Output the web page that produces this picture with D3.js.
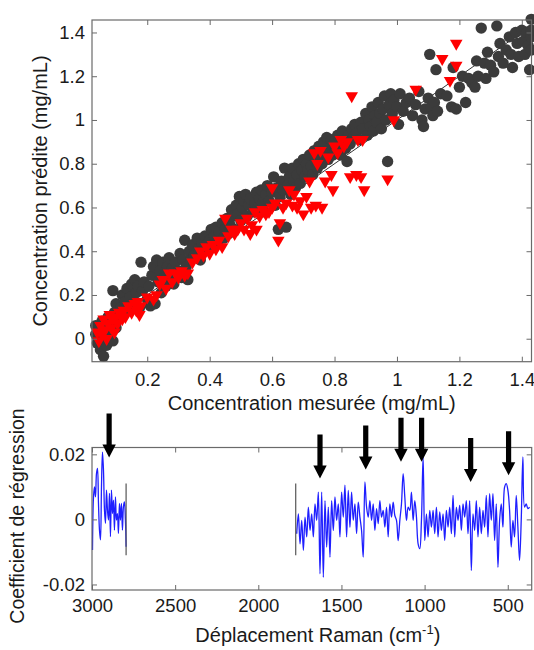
<!DOCTYPE html>
<html><head><meta charset="utf-8">
<script src="https://cdn.jsdelivr.net/npm/d3@7"></script>
<style>body{margin:0;background:#fff}text{font-family:"Liberation Sans",Arial,sans-serif;fill:#1a1a1a}</style>
</head><body>
<svg id="c" width="534" height="650"></svg>
<script>
// ---------- Top panel data (measured vs predicted concentration, mg/mL) ----------
const grayPts = [
[0.035,0.06],[0.035,0.02],[0.04,-0.02],[0.045,0.04],[0.05,-0.05],[0.055,0.08],[0.06,-0.08],[0.06,0.0],[0.065,0.05],[0.07,-0.03],
[0.075,0.1],[0.08,0.02],[0.085,0.06],[0.09,-0.01],[0.09,0.22],[0.095,0.12],[0.1,0.05],[0.1,0.16],[0.11,0.09],[0.115,0.14],
[0.12,0.2],[0.125,0.11],[0.13,0.17],[0.135,0.23],[0.14,0.13],[0.145,0.19],[0.15,0.25],[0.155,0.16],[0.16,0.27],[0.165,0.21],
[0.17,0.24],[0.175,0.14],[0.18,0.35],[0.185,0.22],[0.19,0.26],[0.2,0.18],[0.205,0.24],[0.21,0.15],[0.215,0.29],[0.22,0.33],
[0.225,0.16],[0.23,0.36],[0.235,0.26],[0.24,0.31],[0.245,0.21],[0.25,0.35],[0.255,0.28],[0.26,0.24],[0.265,0.33],[0.27,0.37],
[0.275,0.29],[0.28,0.32],[0.285,0.25],[0.29,0.35],[0.3,0.31],[0.305,0.39],[0.31,0.28],[0.315,0.36],[0.32,0.45],[0.325,0.33],
[0.33,0.27],[0.335,0.4],[0.34,0.36],[0.345,0.43],[0.35,0.38],[0.36,0.46],[0.365,0.41],[0.37,0.36],[0.375,0.44],[0.38,0.4],
[0.385,0.47],[0.39,0.43],[0.4,0.45],[0.405,0.5],[0.41,0.42],[0.415,0.47],[0.42,0.51],[0.425,0.44],[0.43,0.49],[0.44,0.53],
[0.445,0.46],[0.45,0.5],[0.455,0.55],[0.46,0.48],[0.465,0.52],[0.47,0.59],[0.475,0.56],[0.48,0.5],[0.485,0.61],[0.49,0.57],
[0.495,0.65],[0.5,0.54],[0.505,0.6],[0.51,0.63],[0.515,0.66],[0.52,0.56],[0.525,0.61],[0.53,0.64],[0.54,0.58],[0.545,0.62],
[0.55,0.67],[0.555,0.6],[0.56,0.64],[0.565,0.68],[0.57,0.62],[0.575,0.58],[0.58,0.66],[0.585,0.7],[0.59,0.63],[0.6,0.67],
[0.605,0.74],[0.61,0.61],[0.615,0.69],[0.62,0.5],[0.625,0.65],[0.63,0.72],[0.635,0.68],[0.64,0.78],[0.645,0.51],[0.65,0.7],
[0.655,0.74],[0.66,0.66],[0.665,0.78],[0.67,0.72],[0.675,0.69],[0.68,0.75],[0.685,0.8],[0.69,0.71],[0.695,0.77],[0.7,0.82],
[0.705,0.74],[0.71,0.8],[0.715,0.77],[0.72,0.84],[0.725,0.79],[0.73,0.75],[0.735,0.86],[0.74,0.81],[0.745,0.78],[0.75,0.88],
[0.755,0.83],[0.76,0.8],[0.765,0.9],[0.77,0.85],[0.775,0.92],[0.78,0.82],[0.785,0.87],[0.79,0.91],[0.795,0.84],[0.8,0.9],
[0.805,0.86],[0.81,0.93],[0.815,0.88],[0.82,0.84],[0.825,0.95],[0.83,0.9],[0.835,0.87],[0.84,0.81],[0.845,0.93],[0.85,0.89],
[0.855,0.96],[0.86,0.92],[0.865,0.98],[0.87,0.94],[0.88,0.91],[0.885,0.99],[0.89,0.96],[0.9,1.03],[0.905,0.93],[0.91,1.0],
[0.915,0.97],[0.92,1.06],[0.925,0.95],[0.93,1.02],[0.935,0.99],[0.94,1.08],[0.945,1.03],[0.95,0.96],[0.955,1.05],[0.96,1.11],
[0.965,1.0],[0.97,0.81],[0.975,1.07],[0.98,1.12],[0.985,1.03],[0.99,1.09],[1.0,1.06],[1.005,0.98],[1.01,1.12],[1.02,1.04],
[1.03,1.08],[1.04,1.1],[1.05,1.02],[1.06,1.07],[1.07,1.13],[1.08,1.0],[1.085,0.97],[1.09,1.05],[1.1,1.1],[1.105,1.3],
[1.11,1.06],[1.115,1.02],[1.12,1.08],[1.125,1.23],[1.13,1.04],[1.14,1.12],[1.16,1.11],[1.175,1.06],[1.18,1.24],[1.19,1.05],
[1.2,1.15],[1.21,1.2],[1.22,1.08],[1.23,1.19],[1.24,1.17],[1.25,1.15],[1.255,1.27],[1.26,1.2],[1.27,1.42],[1.28,1.26],
[1.285,1.19],[1.29,1.31],[1.3,1.25],[1.31,1.22],[1.32,1.43],[1.325,1.29],[1.33,1.35],[1.34,1.26],[1.35,1.32],[1.36,1.38],
[1.365,1.3],[1.37,1.24],[1.38,1.4],[1.385,1.35],[1.39,1.29],[1.4,1.41],[1.405,1.36],[1.41,1.3],[1.415,1.4],[1.42,1.34],
[1.425,1.23],[1.43,1.46],[1.43,1.38],[1.43,1.32],[1.43,1.41]
];
const redPts = [
[0.04,0.03],[0.045,-0.01],[0.05,0.06],[0.055,0.02],[0.06,0.09],[0.065,0.04],[0.07,0.0],[0.075,0.07],[0.08,0.11],[0.085,0.05],
[0.09,0.09],[0.095,0.03],[0.1,0.1],[0.105,0.07],[0.11,0.12],[0.12,0.09],[0.125,0.13],[0.13,0.1],[0.14,0.15],[0.15,0.12],
[0.16,0.16],[0.165,0.13],[0.17,0.17],[0.175,0.11],[0.18,0.15],[0.2,0.19],[0.22,0.18],[0.23,0.2],[0.24,0.25],[0.25,0.27],
[0.26,0.23],[0.27,0.3],[0.28,0.26],[0.29,0.3],[0.3,0.28],[0.31,0.31],[0.32,0.29],[0.33,0.3],[0.345,0.35],[0.36,0.37],
[0.37,0.4],[0.38,0.38],[0.39,0.42],[0.4,0.39],[0.41,0.43],[0.42,0.41],[0.43,0.45],[0.44,0.42],[0.45,0.55],[0.46,0.47],
[0.47,0.5],[0.48,0.48],[0.49,0.5],[0.5,0.53],[0.51,0.5],[0.52,0.55],[0.53,0.48],[0.535,0.52],[0.545,0.58],[0.55,0.5],
[0.56,0.56],[0.57,0.59],[0.58,0.57],[0.59,0.58],[0.6,0.6],[0.6,0.69],[0.61,0.62],[0.62,0.45],[0.625,0.53],[0.635,0.6],
[0.645,0.62],[0.655,0.68],[0.665,0.61],[0.67,0.66],[0.68,0.6],[0.69,0.63],[0.7,0.57],[0.71,0.65],[0.72,0.72],[0.725,0.6],
[0.735,0.85],[0.74,0.61],[0.745,0.8],[0.755,0.86],[0.76,0.6],[0.77,0.72],[0.78,0.83],[0.79,0.75],[0.795,0.68],[0.8,0.88],
[0.81,0.85],[0.82,0.91],[0.83,0.88],[0.84,0.9],[0.85,0.74],[0.855,1.11],[0.87,0.75],[0.875,0.91],[0.885,0.74],[0.89,0.91],
[0.895,0.68],[0.97,0.73],[0.99,1.0],[1.06,1.14],[1.145,1.28],[1.17,1.18],[1.19,1.25],[1.19,1.35]
];
const xTicksTop = [0.2,0.4,0.6,0.8,1,1.2,1.4];
const yTicksTop = [0,0.2,0.4,0.6,0.8,1,1.2,1.4];

// ---------- Bottom panel data (regression coefficients vs Raman shift) ----------
const seg1Wn = [2997,2991,2985,2979,2973,2967,2961,2955,2949,2943,2937,2931,2925,2919,2913,2907,2901,2895,2889,2883,
2877,2871,2865,2859,2853,2847,2841,2835,2829,2823,2817,2811,2805,2799,2795];
const seg1Val = [-0.0094,0.0069,0.01,0.0069,0.0141,0.0157,0.0049,-0.0033,-0.0063,0.01,0.0207,0.0151,0.0029,-0.0012,0.009,
0.0029,-0.0002,0.008,-0.0053,0.009,0.0018,0.0059,-0.0033,0.0069,-0.0002,0.0018,-0.0043,0.0049,-0.0002,0.0049,-0.0033,
0.0039,0.0054,-0.0002,-0.0084];
const seg2Wn = [1769,1759,1749,1739,1729,1719,1709,1699,1689,1679,1669,1659,1649,1639,1629,1619,1609,1599,1589,1579,
1569,1559,1549,1539,1529,1519,1509,1499,1489,1479,1469,1459,1449,1439,1429,1419,1409,1399,1389,1379,
1369,1359,1349,1339,1329,1319,1309,1299,1289,1279,1269,1259,1249,1239,1229,1219,1209,1199,1189,1179,
1169,1159,1149,1139,1129,1119,1109,1099,1089,1079,1069,1059,1049,1039,1029,1019,1009,999,989,979,
969,959,949,939,929,919,909,899,889,879,869,859,849,839,829,819,809,799,789,779,
769,759,749,739,729,719,709,699,689,679,669,659,649,639,629,619,609,599,589,579,
569,559,549,539,529,519,509,499,489,479,469,459,449,439,429,419,409,399,389,379,369];
const seg2Val = [-0.0044,0.0017,-0.0075,-0.0003,-0.0095,0.0007,-0.0054,0.0038,-0.0034,0.0017,
-0.0054,0.0048,-0.0003,0.0084,-0.0167,0.0084,-0.0178,0.0058,-0.0085,0.0038,
-0.0116,0.0058,-0.0034,0.0069,-0.0003,0.0048,-0.0054,0.0084,0.0007,0.0105,
-0.0054,0.0089,-0.0024,0.0084,-0.0003,0.0048,-0.0044,0.0053,0.0007,-0.0034,
-0.0116,0.0115,0.0038,0.0007,0.0058,-0.0003,0.0048,-0.0034,0.0033,-0.0013,
0.0058,0.0007,0.0028,-0.0024,0.0038,-0.0054,0.0048,0.0007,0.0053,0.0012,
-0.0003,-0.0065,-0.0003,0.0048,0.0141,0.0069,-0.0003,0.0038,0.0028,0.0084,
-0.0003,0.0058,0.0007,-0.0075,-0.009,-0.0003,0.0192,-0.0065,0.0017,-0.0054,
0.0028,-0.0024,0.0028,-0.0044,0.0038,-0.0054,0.0023,-0.0034,0.0017,-0.0065,
0.0028,-0.0024,0.0038,-0.0044,0.0074,-0.0054,0.0038,-0.0003,0.0043,-0.0034,
0.0048,0.0007,0.0058,-0.0044,0.0058,-0.0157,0.0017,-0.0034,0.0058,-0.0054,
0.0038,-0.0044,0.0028,-0.0024,0.0074,-0.0054,0.0079,-0.0003,0.0079,-0.0065,
0.0048,-0.0147,-0.0003,0.0048,-0.0024,0.0099,0.011,0.0089,0.0028,-0.0085,
-0.0003,-0.0054,0.0074,-0.0024,-0.0126,-0.0003,0.0192,0.0038,0.0048,0.0033,0.0038];
const segEdgeWn = [2795, 1775];
const segEdgeVal = [-0.011, 0.011];
const arrowWn = [2897,1629,1354,1142,1018,723,495];
const arrowTip = [0.019,0.0126,0.0153,0.0177,0.0177,0.0115,0.0136];
const xTicksBot = [3000,2500,2000,1500,1000,500];
const yTicksBot = [-0.02,0,0.02];

// ---------- Drawing ----------
const svg = d3.select("#c");
const FS = 18.5;
const frameCol = "#6a6a6a";
const fmt = d => (d === 0 ? "0" : String(+d.toFixed(3)));

function frame(g, x0, y0, x1, y1) {
  g.append("rect").attr("x", x0).attr("y", y0).attr("width", x1 - x0).attr("height", y1 - y0)
    .attr("fill", "none").attr("stroke", frameCol).attr("stroke-width", 1.2);
}
function axes(g, xs, ys, xt, yt, box, xpad) {
  const [x0, y0, x1, y1] = box;
  const ax = g.append("g").attr("transform", `translate(0,${y1})`)
    .call(d3.axisBottom(xs).tickValues(xt).tickFormat(fmt).tickSize(-5).tickPadding(xpad));
  const axT = g.append("g").attr("transform", `translate(0,${y0})`)
    .call(d3.axisTop(xs).tickValues(xt).tickFormat("").tickSize(-5));
  const ay = g.append("g").attr("transform", `translate(${x0},0)`)
    .call(d3.axisLeft(ys).tickValues(yt).tickFormat(fmt).tickSize(-5).tickPadding(7));
  const ayR = g.append("g").attr("transform", `translate(${x1},0)`)
    .call(d3.axisRight(ys).tickValues(yt).tickFormat("").tickSize(-5));
  [ax, axT, ay, ayR].forEach(a => {
    a.select(".domain").remove();
    a.selectAll("line").attr("stroke", frameCol).attr("stroke-width", 1);
    a.selectAll("text").style("font-size", FS + "px").style("font-family", '"Liberation Sans",Arial,sans-serif').attr("fill", "#1a1a1a");
  });
}

// Top panel
const T = [92, 20, 531.5, 361.7];
const xT = d3.scaleLinear().domain([0.023, 1.431]).range([T[0], T[2]]);
const yT = d3.scaleLinear().domain([-0.105, 1.457]).range([T[3], T[1]]);
const gT = svg.append("g");
gT.append("line").attr("x1", xT(0.023)).attr("y1", yT(0.023)).attr("x2", xT(1.431)).attr("y2", yT(1.431))
  .attr("stroke", "#333").attr("stroke-width", 1);
gT.append("g").selectAll("circle").data(grayPts).join("circle")
  .attr("cx", d => xT(d[0])).attr("cy", d => yT(d[1])).attr("r", 5.7).attr("fill", "#3b3b3b");
const tri = d3.symbol().type(d3.symbolTriangle).size(68);
gT.append("g").selectAll("path").data(redPts).join("path")
  .attr("d", tri).attr("transform", d => `translate(${xT(d[0])},${yT(d[1])}) rotate(180)`).attr("fill", "#ff0000");
axes(gT, xT, yT, xTicksTop, yTicksTop, T, 11);
frame(gT, ...T);
svg.append("text").attr("x", (T[0] + T[2]) / 2).attr("y", 410).attr("text-anchor", "middle")
  .style("font-size", "20px").text("Concentration mesurée (mg/mL)");
svg.append("text").attr("transform", "translate(47,191) rotate(-90)").attr("text-anchor", "middle")
  .style("font-size", "20px").text("Concentration prédite (mg/mL)");

// Bottom panel
const B = [92, 447.5, 531.7, 590];
const xB = d3.scaleLinear().domain([3000, 356]).range([B[0], B[2]]);
const yB = d3.scaleLinear().domain([-0.0217, 0.0221]).range([B[3], B[1]]);
const gB = svg.append("g");
const line = d3.line().x(d => xB(d[0])).y(d => yB(d[1])).curve(d3.curveCatmullRom);
gB.append("path").attr("d", line(seg1Wn.map((w, i) => [w, seg1Val[i]])))
  .attr("fill", "none").attr("stroke", "#1f1fff").attr("stroke-width", 1.3);
gB.append("path").attr("d", line(seg2Wn.map((w, i) => [w, seg2Val[i]])))
  .attr("fill", "none").attr("stroke", "#1f1fff").attr("stroke-width", 1.3);
gB.append("g").selectAll("line").data(segEdgeWn).join("line")
  .attr("x1", d => xB(d)).attr("x2", d => xB(d)).attr("y1", yB(segEdgeVal[0])).attr("y2", yB(segEdgeVal[1]))
  .attr("stroke", "#555").attr("stroke-width", 1.2);
axes(gB, xB, yB, xTicksBot, yTicksBot, B, 9);
frame(gB, ...B);
// arrows
const aLen = 44, hW = 6.7, hH = 13, sW = 2.6;
gB.append("g").selectAll("path").data(arrowWn).join("path")
  .attr("d", (w, i) => {
    const x = xB(w), y = yB(arrowTip[i]);
    return `M${x},${y} L${x - hW},${y - hH} L${x - sW},${y - hH} L${x - sW},${y - aLen} L${x + sW},${y - aLen} L${x + sW},${y - hH} L${x + hW},${y - hH} Z`;
  }).attr("fill", "#000");
svg.append("text").attr("x", (B[0] + B[2]) / 2 + 6).attr("y", 642).attr("text-anchor", "middle")
  .style("font-size", "20px")
  .call(t => {
    t.append("tspan").text("Déplacement Raman (cm");
    t.append("tspan").attr("dy", -8).style("font-size", "13px").text("-1");
    t.append("tspan").attr("dy", 8).text(")");
  });
svg.append("text").attr("transform", "translate(24,516) rotate(-90)").attr("text-anchor", "middle")
  .style("font-size", "19.5px").text("Coefficient de régression");
</script>
</body></html>
